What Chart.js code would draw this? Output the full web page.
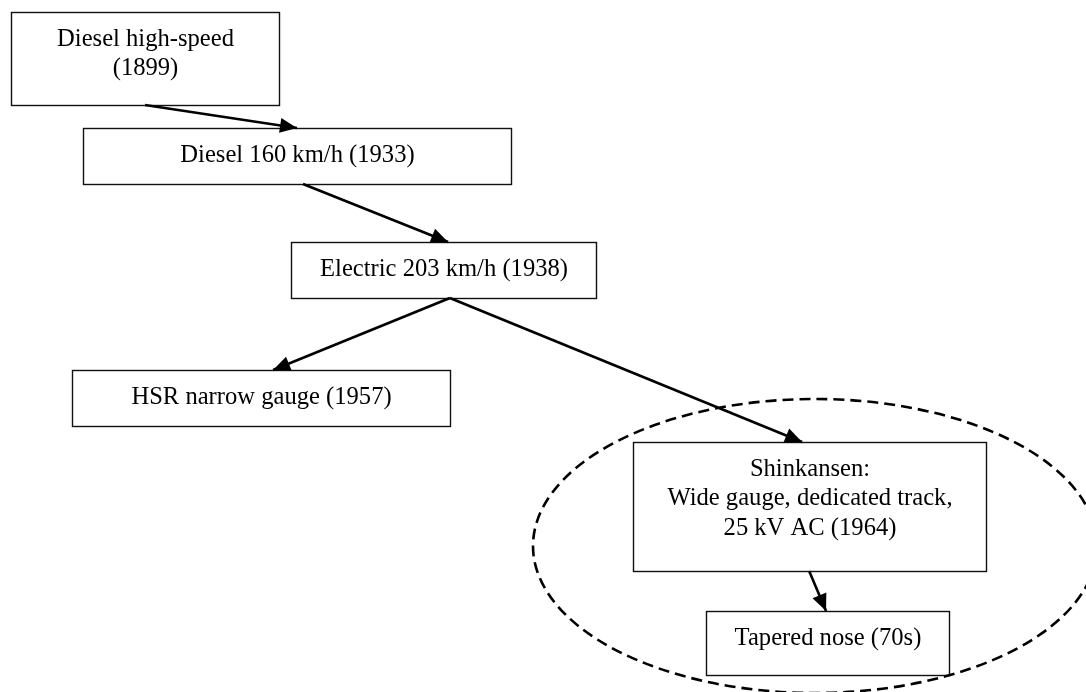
<!DOCTYPE html>
<html>
<head>
<meta charset="utf-8">
<script src="https://cdn.jsdelivr.net/npm/chart.js@4/dist/chart.umd.min.js"></script>
<style>
  html, body { margin: 0; padding: 0; background: #ffffff; }
  #wrap { position: relative; width: 1086px; height: 692px; }
</style>
</head>
<body>
<div id="wrap"><canvas id="c" width="1086" height="692"></canvas></div>
<script>
// ---- Diagram content (nodes) ----
const nodeLabels = [
  ["Diesel high-speed", "(1899)"],
  ["Diesel 160 km/h (1933)"],
  ["Electric 203 km/h (1938)"],
  ["HSR narrow gauge (1957)"],
  ["Shinkansen:", "Wide gauge, dedicated track,", "25 kV AC (1964)"],
  ["Tapered nose (70s)"]
];
const nodeLeft   = [11, 83, 291, 72, 633, 706];
const nodeTop    = [12, 128, 242, 370, 442, 611];
const nodeWidth  = [268, 428, 305, 378, 353, 243];
const nodeHeight = [93, 56, 56, 56, 129, 64];

// ---- Edges (source -> target) ----
const edgeFrom = [0, 1, 2, 2, 4];
const edgeTo   = [1, 2, 3, 4, 5];
const edgeFromFrac = [0.50, 0.514, 0.521, 0.521, 0.499];
const edgeToFrac   = [0.50, 0.515, 0.532, 0.479, 0.494];

// ---- Dashed grouping ellipse ----
const groupCx = [815];
const groupCy = [546];
const groupRx = [282];
const groupRy = [147];

const FONT = '24.6px "Liberation Serif", "Times New Roman", serif';

const datasets = edgeFrom.map((s, i) => {
  const t = edgeTo[i];
  return {
    type: 'line',
    data: [
      { x: nodeLeft[s] + nodeWidth[s] * edgeFromFrac[i], y: nodeTop[s] + nodeHeight[s] },
      { x: nodeLeft[t] + nodeWidth[t] * edgeToFrac[i], y: nodeTop[t] }
    ],
    showLine: true,
    borderColor: '#000',
    borderWidth: 2.6,
    pointRadius: 0,
    fill: false
  };
});

const diagramPlugin = {
  id: 'diagram',
  beforeDatasetsDraw(chart) {
    const ctx = chart.ctx;
    const xs = chart.scales.x, ys = chart.scales.y;
    ctx.save();
    ctx.font = FONT;
    ctx.textAlign = 'center';
    ctx.textBaseline = 'middle';
    nodeLabels.forEach((lines, i) => {
      const x0 = Math.round(xs.getPixelForValue(nodeLeft[i])) + 0.5;
      const x1 = Math.round(xs.getPixelForValue(nodeLeft[i] + nodeWidth[i])) + 0.5;
      const y0 = Math.round(ys.getPixelForValue(nodeTop[i])) + 0.5;
      const y1 = Math.round(ys.getPixelForValue(nodeTop[i] + nodeHeight[i])) + 0.5;
      ctx.fillStyle = '#fff';
      ctx.fillRect(x0, y0, x1 - x0, y1 - y0);
      ctx.strokeStyle = '#111';
      ctx.lineWidth = 1.4;
      ctx.strokeRect(x0, y0, x1 - x0, y1 - y0);
      ctx.fillStyle = '#000';
      const cx = (x0 + x1) / 2;
      lines.forEach((ln, k) => {
        ctx.fillText(ln, cx, y0 + 27 + k * 29.5);
      });
    });
    ctx.restore();
  },
  afterDatasetsDraw(chart) {
    const ctx = chart.ctx;
    const xs = chart.scales.x, ys = chart.scales.y;
    ctx.save();
    // arrowheads
    chart.data.datasets.forEach((ds, i) => {
      const meta = chart.getDatasetMeta(i);
      const p0 = meta.data[0], p1 = meta.data[1];
      const ang = Math.atan2(p1.y - p0.y, p1.x - p0.x);
      const L = 17, W = 7.5;
      ctx.fillStyle = '#000';
      ctx.beginPath();
      ctx.moveTo(p1.x, p1.y);
      ctx.lineTo(p1.x - L * Math.cos(ang) + W * Math.sin(ang), p1.y - L * Math.sin(ang) - W * Math.cos(ang));
      ctx.lineTo(p1.x - L * Math.cos(ang) - W * Math.sin(ang), p1.y - L * Math.sin(ang) + W * Math.cos(ang));
      ctx.closePath();
      ctx.fill();
    });
    // dashed ellipse
    groupCx.forEach((gx, i) => {
      const cx = xs.getPixelForValue(gx);
      const cy = ys.getPixelForValue(groupCy[i]);
      const rx = Math.abs(xs.getPixelForValue(gx + groupRx[i]) - cx);
      const ry = Math.abs(ys.getPixelForValue(groupCy[i] + groupRy[i]) - cy);
      ctx.strokeStyle = '#000';
      ctx.lineWidth = 2.6;
      ctx.setLineDash([11, 6]);
      ctx.beginPath();
      ctx.ellipse(cx, cy, rx, ry, 0, 0, Math.PI * 2);
      ctx.stroke();
    });
    ctx.restore();
  }
};

new Chart(document.getElementById('c'), {
  type: 'scatter',
  data: { datasets },
  options: {
    responsive: false,
    animation: false,
    layout: { padding: 0 },
    plugins: { legend: { display: false }, tooltip: { enabled: false } },
    scales: {
      x: { type: 'linear', min: 0, max: 1086, display: false },
      y: { type: 'linear', min: 0, max: 692, reverse: true, display: false }
    }
  },
  plugins: [diagramPlugin]
});
</script>
</body>
</html>
